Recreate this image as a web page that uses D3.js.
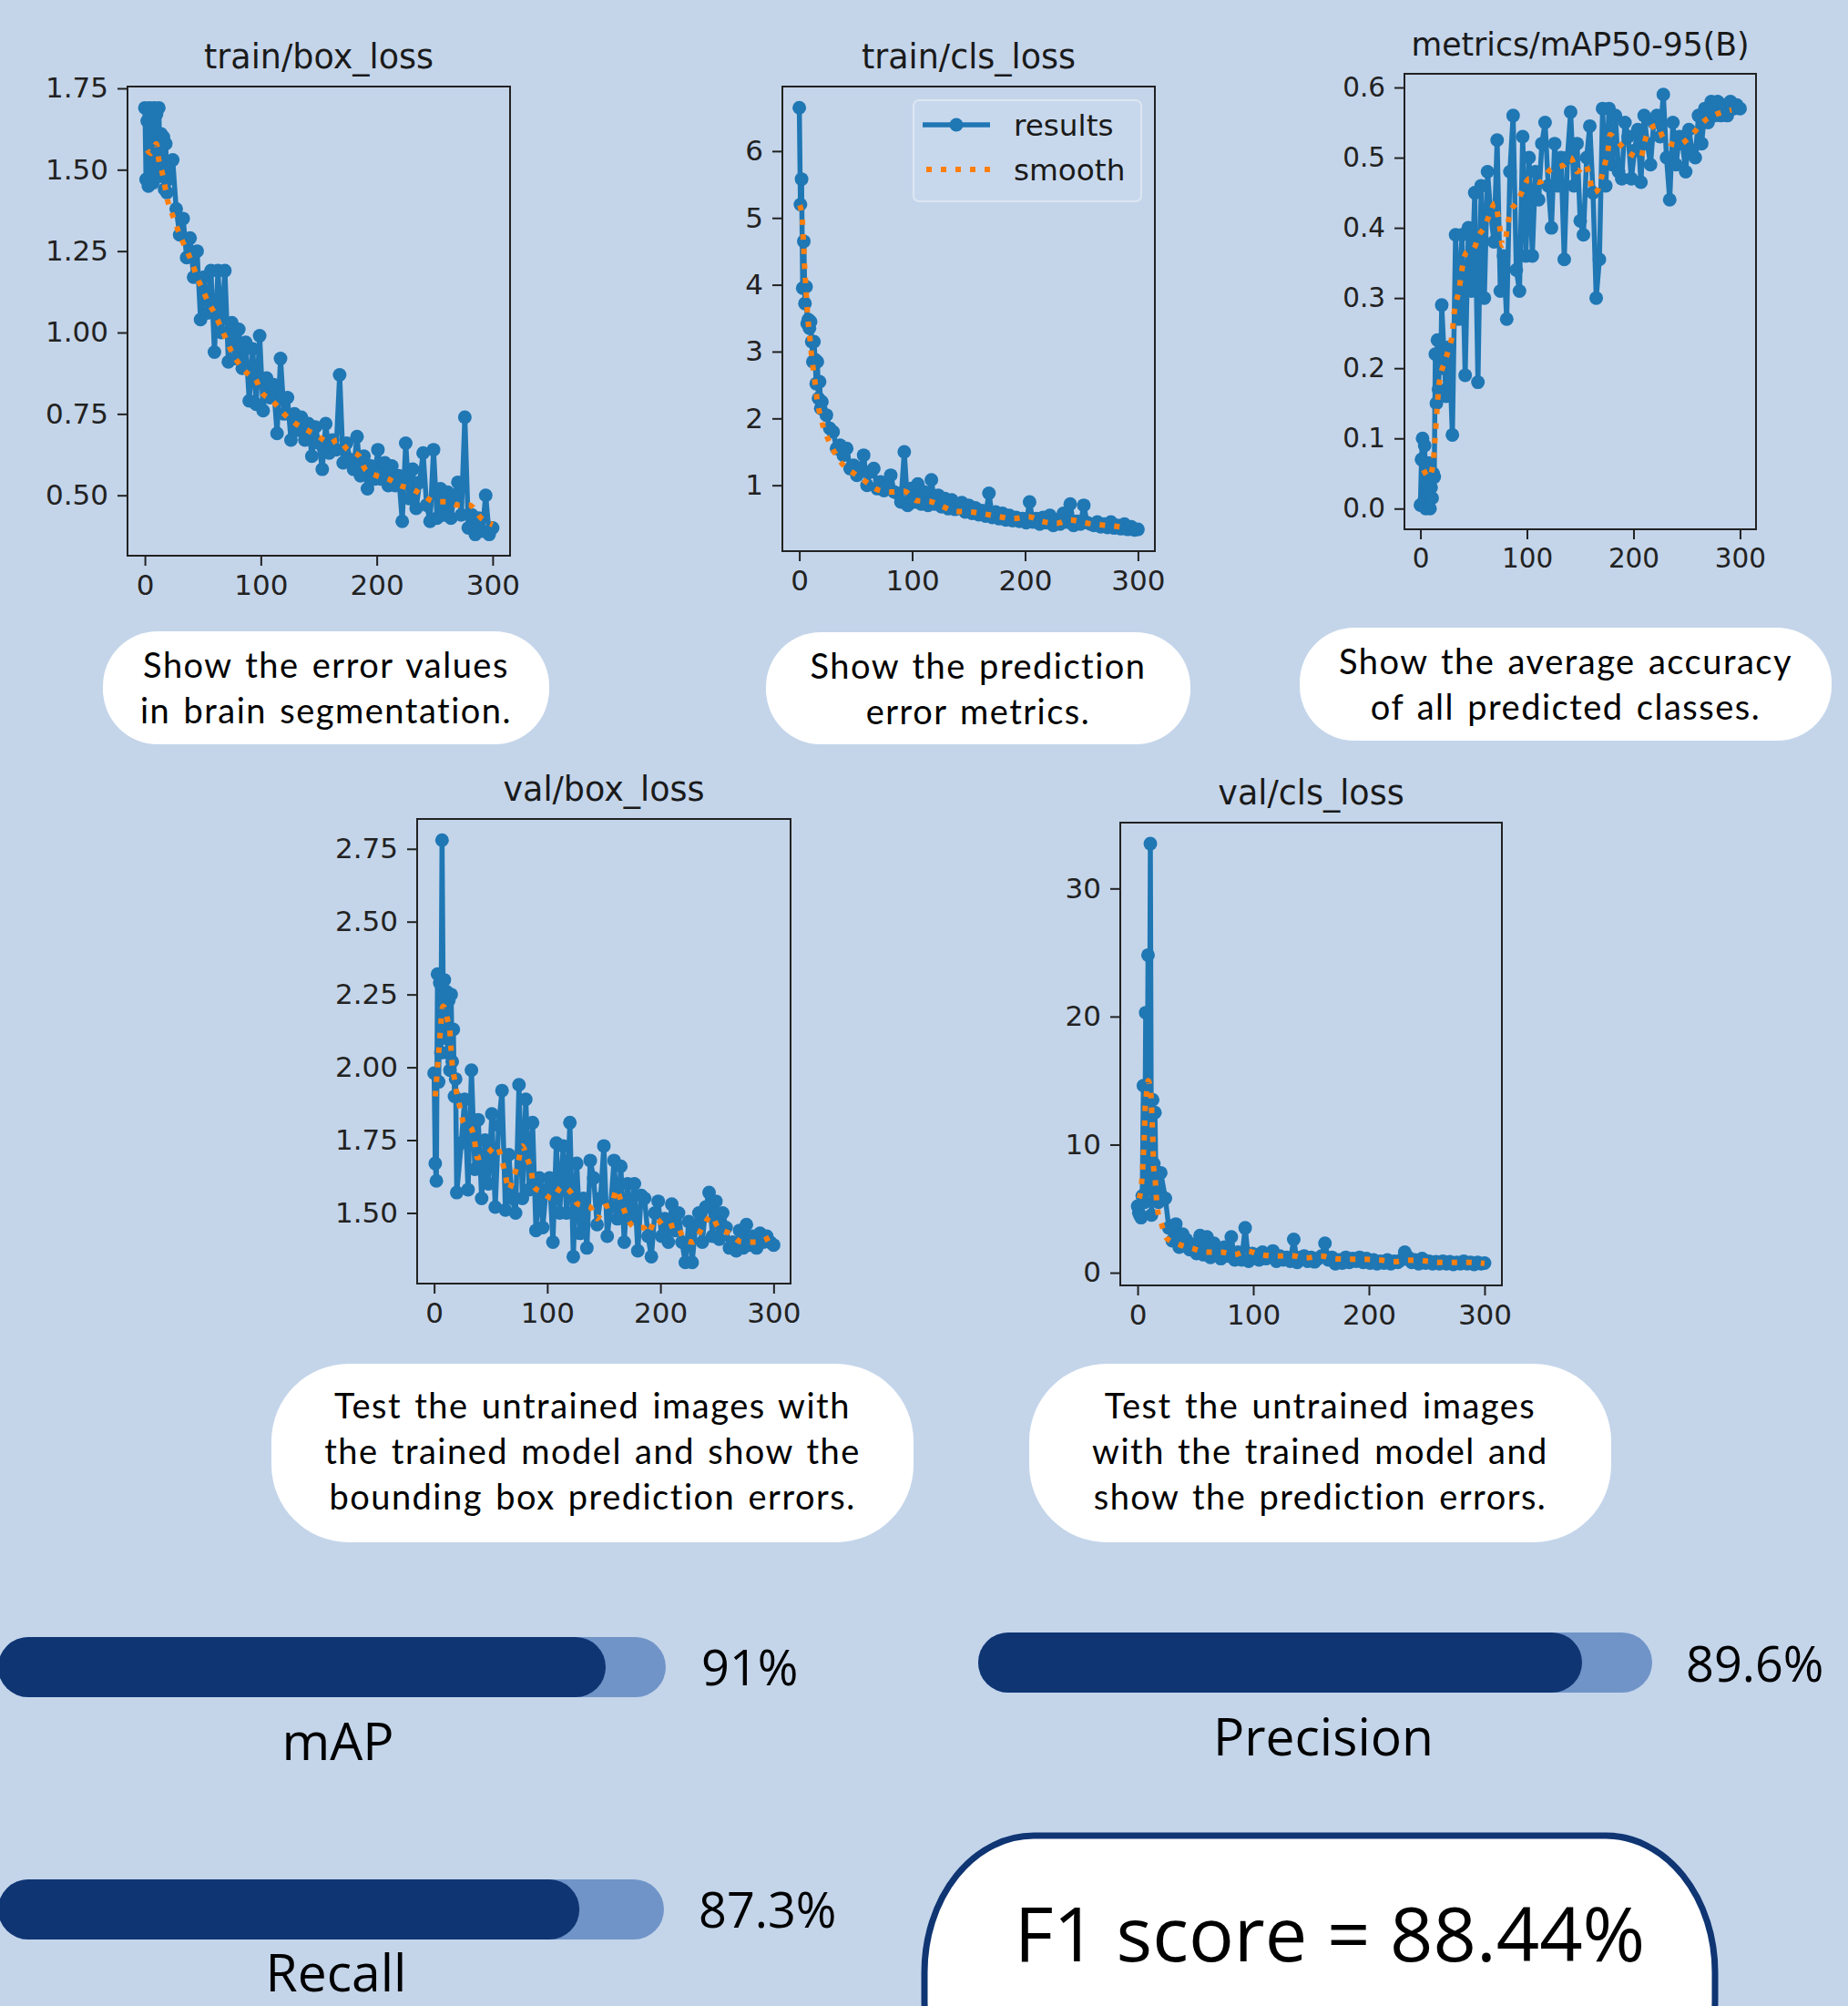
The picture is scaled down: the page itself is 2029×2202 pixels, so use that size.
<!DOCTYPE html>
<html>
<head>
<meta charset="utf-8">
<script src="https://cdn.jsdelivr.net/npm/d3@7/dist/d3.min.js"></script>
<style>
body{margin:0;overflow:hidden;background:#c4d5ea;}
</style>
</head>
<body>
<div id="board"></div>
<script>
var W=2029, H=2202;
var bg="#c4d5ea";
var navy="#0f3573";
var pale="#7094c8";
var blue="#1f77b4";
var orange="#ff7f0e";

// epochs: every epoch up to 20, then every third one
var epochs=d3.range(0,21).concat(d3.range(24,301,3));
var xTicks=[0,100,200,300];

// train/box_loss
var trainBox=[1.69,1.47,1.65,1.45,1.69,1.50,1.66,1.46,1.69,1.55,1.67,1.48,1.69,1.52,1.61,1.48,1.60,1.44,1.58,1.43,1.47,
 1.53,1.38,1.30,1.35,1.23,1.29,1.17,1.25,1.04,1.17,
 1.06,1.19,0.94,1.19,1.00,1.19,0.91,1.03,0.92,1.01,
 0.89,0.97,0.79,0.95,0.78,0.99,0.76,0.86,0.80,0.84,
 0.69,0.92,0.75,0.80,0.67,0.75,0.70,0.74,0.67,0.72,
 0.62,0.71,0.66,0.58,0.72,0.63,0.67,0.64,0.87,0.60,
 0.66,0.61,0.58,0.68,0.56,0.62,0.52,0.59,0.55,0.64,
 0.55,0.60,0.53,0.59,0.53,0.56,0.42,0.66,0.49,0.58,
 0.46,0.54,0.63,0.47,0.42,0.64,0.43,0.52,0.44,0.51,
 0.43,0.50,0.54,0.44,0.74,0.40,0.44,0.38,0.43,0.39,
 0.50,0.38,0.40];
var trainBoxSmoothEp=[2,5,10,12,15,20,25,30,35,40,45,50,55,60,65,70,75,80,90,95,100,110,120,130,140,150,160,166,175,185,190,200,210,220,230,240,250,260,270,280,290,300];
var trainBoxSmooth=[1.56,1.55,1.58,1.53,1.49,1.40,1.35,1.30,1.26,1.22,1.17,1.13,1.09,1.06,1.02,0.98,0.94,0.91,0.87,0.86,0.82,0.79,0.75,0.72,0.70,0.68,0.66,0.67,0.64,0.62,0.58,0.56,0.55,0.53,0.52,0.50,0.48,0.48,0.47,0.47,0.43,0.41];
var trainBoxTicks=[0.5,0.75,1.0,1.25,1.5,1.75];

// train/cls_loss
var trainCls=[6.65,5.20,5.58,3.95,4.65,3.72,3.97,3.42,3.48,3.35,3.45,3.15,2.85,3.15,2.88,2.52,2.85,2.30,2.55,2.15,2.25,
 2.05,1.85,1.80,1.55,1.60,1.45,1.55,1.25,1.30,1.15,
 1.25,1.45,1.00,1.20,1.25,0.95,1.05,0.92,0.98,1.15,
 0.90,0.88,0.75,1.50,0.70,0.95,0.75,1.02,0.72,0.90,
 0.70,1.08,0.72,0.85,0.68,0.80,0.65,0.78,0.64,0.72,
 0.74,0.60,0.70,0.58,0.66,0.56,0.62,0.54,0.88,0.52,
 0.60,0.50,0.58,0.48,0.55,0.47,0.52,0.46,0.50,0.44,
 0.75,0.45,0.50,0.42,0.52,0.44,0.55,0.40,0.48,0.42,
 0.58,0.45,0.72,0.40,0.46,0.42,0.70,0.44,0.42,0.40,
 0.45,0.38,0.42,0.37,0.45,0.36,0.40,0.35,0.42,0.34,
 0.38,0.33,0.34];
var trainClsSmoothEp=[0.5,2.7,3.3,4,4.6,5.4,6.2,7,8,9.4,10.5,12,14,15.6,18,21.5,26,32,40,49,60,70,82,93,104,115,126,138,152,164,177,189,203,215,228,240,252,265,278,291];
var trainClsSmooth=[5.19,4.97,4.75,4.53,4.3,4.08,3.86,3.64,3.42,3.2,3.0,2.78,2.53,2.3,2.08,1.86,1.67,1.47,1.28,1.17,1.04,0.93,0.90,0.91,0.77,0.76,0.69,0.61,0.60,0.57,0.53,0.50,0.53,0.46,0.43,0.48,0.44,0.41,0.39,0.36];
var trainClsTicks=[1,2,3,4,5,6];

// metrics/mAP50-95(B)
var mapVals=[0.005,0.07,0.10,0.01,0.09,0.00,0.05,0.02,0.065,0.00,0.03,0.015,0.05,0.045,0.22,0.15,0.24,0.17,0.22,0.20,0.29,
 0.16,0.23,0.105,0.39,0.27,0.39,0.19,0.40,0.31,0.45,
 0.18,0.46,0.30,0.48,0.42,0.38,0.525,0.31,0.36,0.27,
 0.48,0.56,0.34,0.31,0.53,0.36,0.50,0.36,0.48,0.44,
 0.52,0.55,0.46,0.40,0.52,0.46,0.50,0.355,0.50,0.565,
 0.46,0.52,0.41,0.39,0.50,0.545,0.45,0.30,0.355,0.57,
 0.46,0.57,0.49,0.56,0.48,0.47,0.55,0.53,0.47,0.51,
 0.54,0.465,0.56,0.52,0.49,0.55,0.56,0.53,0.59,0.50,
 0.44,0.55,0.49,0.53,0.52,0.48,0.54,0.51,0.50,0.56,
 0.52,0.57,0.55,0.58,0.56,0.58,0.56,0.575,0.56,0.58,
 0.57,0.575,0.57];
var mapSmoothEp=[3,8,12,13,14,15,16,17,19,23,27,30,31,33,36,38,40,43,50,55,60,65,70,73,75,77,80,82,85,90,95,102,112,122,135,141,147,155,159,162,166,170,173,176,178,182,190,200,207,210,215,222,228,240,245,252,258,267,278,292];
var mapSmooth=[0.055,0.045,0.065,0.085,0.105,0.13,0.15,0.17,0.19,0.21,0.23,0.25,0.27,0.29,0.31,0.33,0.35,0.365,0.37,0.39,0.40,0.42,0.435,0.415,0.395,0.375,0.385,0.405,0.425,0.435,0.45,0.47,0.465,0.483,0.49,0.50,0.48,0.49,0.47,0.45,0.453,0.472,0.49,0.51,0.533,0.528,0.515,0.503,0.50,0.52,0.54,0.546,0.528,0.518,0.52,0.528,0.538,0.553,0.562,0.568];
var mapTicks=[0,0.1,0.2,0.3,0.4,0.5,0.6];

// val/box_loss
var valBox=[1.98,1.67,1.61,2.32,1.95,2.29,2.05,2.78,2.25,2.30,2.10,2.26,2.05,2.23,1.99,2.25,2.02,2.13,1.90,1.96,1.57,
 1.74,1.89,1.58,1.99,1.65,1.82,1.55,1.75,1.60,1.84,
 1.52,1.80,1.92,1.51,1.70,1.55,1.50,1.94,1.55,1.89,
 1.58,1.81,1.44,1.62,1.45,1.58,1.62,1.40,1.74,1.50,
 1.73,1.50,1.81,1.35,1.67,1.43,1.55,1.38,1.68,1.62,
 1.46,1.55,1.73,1.42,1.52,1.68,1.48,1.66,1.40,1.60,
 1.48,1.60,1.37,1.56,1.55,1.42,1.35,1.50,1.54,1.42,
 1.48,1.40,1.53,1.44,1.50,1.40,1.33,1.47,1.33,1.45,
 1.50,1.40,1.52,1.57,1.42,1.54,1.41,1.50,1.45,1.38,
 1.40,1.37,1.44,1.38,1.46,1.39,1.42,1.38,1.43,1.40,
 1.42,1.40,1.39];
var valBoxSmoothEp=[1,2,3,4,5,6,7,8,12,14,15,16,18,20,23,26,33,36,38,46,55,60,63,66,70,74,78,82,86,88,96,104,113,121,127,138,144,150,157,161,166,171,178,185,189,196,205,214,221,229,237,245,251,261,272,285,298];
var valBoxSmooth=[1.90,1.95,2.00,2.05,2.10,2.15,2.20,2.21,2.16,2.12,2.06,2.01,1.96,1.91,1.86,1.81,1.79,1.74,1.69,1.70,1.73,1.68,1.63,1.58,1.62,1.67,1.73,1.69,1.64,1.59,1.57,1.55,1.59,1.57,1.53,1.52,1.48,1.52,1.53,1.58,1.53,1.48,1.45,1.45,1.43,1.48,1.45,1.46,1.41,1.40,1.45,1.49,1.45,1.43,1.40,1.40,1.42];
var valBoxTicks=[1.5,1.75,2.0,2.25,2.5,2.75];

// val/cls_loss
var valCls=[5.2,4.7,4.5,4.3,6.0,14.6,5.5,20.3,6.5,24.8,7.5,33.5,4.5,13.5,8.5,12.5,6.0,7.0,5.5,6.2,7.8,
 5.8,3.5,2.5,3.8,2.0,3.0,2.6,1.8,2.2,1.5,
 2.9,1.4,2.8,1.2,2.3,1.6,1.1,2.0,1.3,2.8,
 1.0,1.6,1.0,3.5,0.9,1.5,1.4,1.0,1.6,1.1,
 1.3,1.7,0.9,1.3,1.0,1.2,0.9,2.6,0.8,1.2,
 1.3,0.9,1.2,0.85,1.1,1.3,2.3,1.0,1.2,0.7,
 1.0,0.75,1.2,0.8,1.1,0.9,1.2,0.8,1.1,0.75,
 1.0,0.7,0.9,0.75,1.0,0.7,0.9,0.8,1.0,1.6,
 1.2,0.8,1.0,0.7,1.1,0.75,0.9,0.7,0.85,0.7,
 0.9,0.7,0.85,0.65,0.8,0.7,0.9,0.7,0.8,0.65,
 0.8,0.7,0.75];
var valClsSmoothEp=[1.4,3.3,4.2,5,5.6,6.1,6.4,7.5,9.2,11.2,12,12.5,13,13.4,13.7,15.3,16,17.3,21,25,36,47,60,72.5,83.6,94,107,121,132,145,159,170,183,196,209,221,234,248,261,275,287,300];
var valClsSmooth=[5.8,6.9,7.9,9.2,10.4,11.6,12.7,13.8,15.0,14.2,13.1,11.9,10.8,9.6,8.4,7.2,6.1,4.9,3.7,2.7,2.2,1.9,1.6,1.6,1.4,1.7,1.4,1.3,1.35,1.15,1.3,1.1,1.05,1.05,1.0,0.85,0.98,0.92,0.8,0.8,0.8,0.73];
var valClsTicks=[0,10,20,30];

// captions under the plots
var captions=[
 ["Show the error values","in brain segmentation."],
 ["Show the prediction","error metrics."],
 ["Show the average accuracy","of all predicted classes."],
 ["Test the untrained images with","the trained model and show the","bounding box prediction errors."],
 ["Test the untrained images","with the trained model and","show the prediction errors."]
];

// final scores
var metricNames=["mAP","Precision","Recall"];
var metricValues=[91,89.6,87.3];
var f1Score=88.44;

var svg=d3.select("#board").append("svg").attr("width",W).attr("height",H);
svg.append("rect").attr("width",W).attr("height",H).attr("fill",bg);

var panels=[
 {title:"train/box_loss",x:140,y:95,w:420,h:515,k:1,res:trainBox,sx:trainBoxSmoothEp,sy:trainBoxSmooth,ticks:trainBoxTicks,fmt:".2f"},
 {title:"train/cls_loss",x:859,y:95,w:409,h:510,k:1,res:trainCls,sx:trainClsSmoothEp,sy:trainClsSmooth,ticks:trainClsTicks,fmt:"d",legend:true},
 {title:"metrics/mAP50-95(B)",x:1542,y:81,w:386,h:500,k:0.95,res:mapVals,sx:mapSmoothEp,sy:mapSmooth,ticks:mapTicks,fmt:".1f"},
 {title:"val/box_loss",x:458,y:899,w:410,h:510,k:1,res:valBox,sx:valBoxSmoothEp,sy:valBoxSmooth,ticks:valBoxTicks,fmt:".2f"},
 {title:"val/cls_loss",x:1230,y:903,w:419,h:508,k:1,res:valCls,sx:valClsSmoothEp,sy:valClsSmooth,ticks:valClsTicks,fmt:"d"}
];

function pad(ext){
  var m=(ext[1]-ext[0])*0.05;
  return [ext[0]-m,ext[1]+m];
}

panels.forEach(function(p){
  var g=svg.append("g").attr("transform","translate("+p.x+","+p.y+")");
  var n=Math.min(p.res.length,epochs.length);
  var pts=d3.range(n).map(function(i){return [epochs[i],p.res[i]];});
  var spts=p.sx.map(function(e,i){return [e,p.sy[i]];});
  var xs=d3.scaleLinear().domain(pad(d3.extent(epochs.slice(0,n)))).range([0,p.w]);
  var ys=d3.scaleLinear().domain(pad(d3.extent(p.res.concat(p.sy)))).range([p.h,0]);
  var fs=31*p.k;

  var ax=g.append("g").attr("transform","translate(0,"+p.h+")")
    .call(d3.axisBottom(xs).tickValues(xTicks).tickSize(11).tickPadding(10).tickFormat(d3.format("d")));
  var ay=g.append("g")
    .call(d3.axisLeft(ys).tickValues(p.ticks).tickSize(11).tickPadding(10).tickFormat(d3.format(p.fmt)));
  [ax,ay].forEach(function(a){
    a.select(".domain").remove();
    a.selectAll("line").attr("stroke","#222").attr("stroke-width",2);
    a.selectAll("text").attr("font-family","DejaVu Sans").attr("font-size",fs).attr("fill","#222");
  });

  var line=d3.line().x(function(d){return xs(d[0]);}).y(function(d){return ys(d[1]);});
  g.append("path").attr("d",line(pts)).attr("fill","none").attr("stroke",blue).attr("stroke-width",5.5).attr("stroke-linejoin","round");
  g.selectAll("circle.pt").data(pts).enter().append("circle").attr("class","pt")
    .attr("cx",function(d){return xs(d[0]);}).attr("cy",function(d){return ys(d[1]);})
    .attr("r",7.5).attr("fill",blue);
  g.append("path").attr("d",line.curve(d3.curveMonotoneX)(spts)).attr("fill","none")
    .attr("stroke",orange).attr("stroke-width",6).attr("stroke-dasharray","6,10");

  g.append("rect").attr("width",p.w).attr("height",p.h).attr("fill","none").attr("stroke","#222").attr("stroke-width",2);
  g.append("text").attr("x",p.w/2).attr("y",-20).attr("text-anchor","middle")
    .attr("font-family","DejaVu Sans").attr("font-size",36.5*p.k).attr("fill","#1a1a1a").text(p.title);

  if(p.legend){
    var lg=g.append("g").attr("transform","translate("+(p.w-265)+",15)");
    lg.append("rect").attr("width",250).attr("height",111).attr("rx",6)
      .attr("fill","#c8d8ec").attr("stroke","#dce6f2").attr("stroke-width",2);
    lg.append("line").attr("x1",10).attr("x2",84).attr("y1",27).attr("y2",27).attr("stroke",blue).attr("stroke-width",5.5);
    lg.append("circle").attr("cx",47).attr("cy",27).attr("r",7.5).attr("fill",blue);
    lg.append("line").attr("x1",14).attr("x2",84).attr("y1",76).attr("y2",76).attr("stroke",orange).attr("stroke-width",6).attr("stroke-dasharray","6,10");
    lg.selectAll("text.lg").data(["results","smooth"]).enter().append("text")
      .attr("x",110).attr("y",function(d,i){return 39+i*49;})
      .attr("font-family","DejaVu Sans").attr("font-size",32.7).attr("fill","#1a1a1a").text(function(d){return d;});
  }
});

// caption pills
var pills=[
 {x:113,y:693,w:490,h:124,r:60},
 {x:841,y:694,w:466,h:123,r:60},
 {x:1427,y:689,w:584,h:124,r:60},
 {x:298,y:1497,w:705,h:196,r:85},
 {x:1130,y:1497,w:639,h:196,r:85}
];
pills.forEach(function(p,i){
  svg.append("rect").attr("x",p.x).attr("y",p.y).attr("width",p.w).attr("height",p.h)
    .attr("rx",p.r).attr("ry",p.r).attr("fill","#fff");
  var lines=captions[i];
  var top=lines.length==3?60:51;
  svg.selectAll(null).data(lines).enter().append("text")
    .attr("x",p.x+p.w/2).attr("y",function(d,j){return p.y+top+j*50;})
    .attr("text-anchor","middle").attr("font-family","Lato").attr("font-size",38)
    .attr("letter-spacing",1.5).attr("word-spacing",3).attr("fill","#000").text(function(d){return d;});
});

// progress bars
var bars=[
 {x0:-2,x1:731,y:1797,tx:770,ty:1850,nx:371,ny:1932},
 {x0:1074,x1:1814,y:1792,tx:1851,ty:1846,nx:1453,ny:1927},
 {x0:-2,x1:729,y:2063,tx:767,ty:2116,nx:369,ny:2186}
];
bars.forEach(function(b,i){
  var bx=d3.scaleLinear().domain([0,100]).range([b.x0,b.x1]);
  svg.append("rect").attr("x",bx(0)).attr("y",b.y).attr("width",bx(100)-bx(0)).attr("height",66)
    .attr("rx",33).attr("fill",pale);
  svg.append("rect").attr("x",bx(0)).attr("y",b.y).attr("width",bx(metricValues[i])-bx(0)).attr("height",66)
    .attr("rx",33).attr("fill",navy);
  svg.append("text").attr("x",b.tx).attr("y",b.ty).attr("font-family","Open Sans").attr("font-size",54)
    .attr("fill","#000").text(metricValues[i]+"%");
  svg.append("text").attr("x",b.nx).attr("y",b.ny).attr("text-anchor","middle").attr("font-family","Open Sans")
    .attr("font-size",57).attr("fill","#000").text(metricNames[i]);
});

// F1 box
svg.append("rect").attr("x",1015).attr("y",2015).attr("width",868).attr("height",330)
  .attr("rx",120).attr("ry",150).attr("fill","#fff").attr("stroke",navy).attr("stroke-width",7);
svg.append("text").attr("x",1460).attr("y",2153).attr("text-anchor","middle").attr("font-family","Open Sans")
  .attr("font-size",83).attr("fill","#000").text("F1 score = "+f1Score+"%");
</script>
</body>
</html>
